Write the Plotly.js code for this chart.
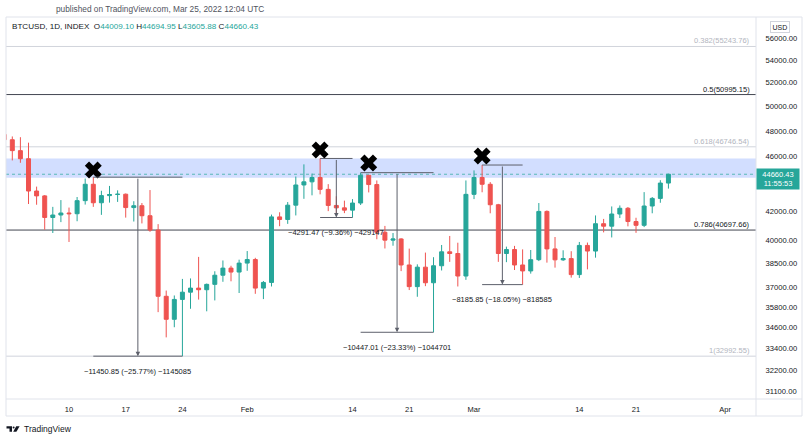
<!DOCTYPE html>
<html>
<head>
<meta charset="utf-8">
<script src="https://cdn.plot.ly/plotly-3.0.1.min.js"></script>
<style>html,body{margin:0;padding:0;background:#fff;}#chart{width:808px;height:440px;}</style>
</head>
<body>
<div id="chart"></div>
<script>
// ---- Daily candles (BTCUSD, 1D, INDEX) ----
const dates = ['2022-01-02','2022-01-03','2022-01-04','2022-01-05','2022-01-06','2022-01-07','2022-01-08','2022-01-09','2022-01-10','2022-01-11','2022-01-12','2022-01-13','2022-01-14','2022-01-15','2022-01-16','2022-01-17','2022-01-18','2022-01-19','2022-01-20','2022-01-21','2022-01-22','2022-01-23','2022-01-24','2022-01-25','2022-01-26','2022-01-27','2022-01-28','2022-01-29','2022-01-30','2022-01-31','2022-02-01','2022-02-02','2022-02-03','2022-02-04','2022-02-05','2022-02-06','2022-02-07','2022-02-08','2022-02-09','2022-02-10','2022-02-11','2022-02-12','2022-02-13','2022-02-14','2022-02-15','2022-02-16','2022-02-17','2022-02-18','2022-02-19','2022-02-20','2022-02-21','2022-02-22','2022-02-23','2022-02-24','2022-02-25','2022-02-26','2022-02-27','2022-02-28','2022-03-01','2022-03-02','2022-03-03','2022-03-04','2022-03-05','2022-03-06','2022-03-07','2022-03-08','2022-03-09','2022-03-10','2022-03-11','2022-03-12','2022-03-13','2022-03-14','2022-03-15','2022-03-16','2022-03-17','2022-03-18','2022-03-19','2022-03-20','2022-03-21','2022-03-22','2022-03-23','2022-03-24','2022-03-25'];
const opens  = [47720,47300,46450,45830,43430,43080,41560,41730,41870,41820,42740,43920,42590,43100,43180,43200,42250,42380,41680,40700,36450,35080,36260,36700,36950,36850,37180,37750,38200,37950,38520,38750,36950,37300,41600,41420,42420,43870,44100,44420,43550,42400,42230,42070,42570,44580,43900,40550,40020,40100,38400,37040,38260,37280,38350,39250,39140,37700,43190,44420,43920,42450,39140,39400,38400,38020,38740,41980,39440,38730,38810,37790,39670,39300,41130,40960,41800,42200,41280,41020,42360,42900,44009.10];
const highs  = [47990,47560,47500,47070,43750,43140,42300,42780,42250,43000,44340,44443.4,43450,43800,43480,43250,42700,42570,43500,41100,36800,36500,37520,37550,38920,37230,38000,38690,38350,38740,39300,38860,37390,41760,41920,42640,44490,45400,44710,45849,43930,43050,42740,42850,44778,44590,44200,40980,40500,40150,39460,38440,39200,38900,39700,40300,39850,44200,44950,45351,44080,42510,39590,39640,39410,39370,42570,42050,40230,39350,39290,39900,39860,41700,41460,42330,42400,42290,41540,43350,43000,44220,44694.95];
const lows   = [46650,45700,45520,42500,42450,40720,40500,41240,39900,41300,42460,42300,41740,42600,42650,41550,41280,41150,40580,35500,34040,34620,32992.55,35700,36250,35550,36200,37340,37370,36650,38030,36600,36280,37050,40960,41120,41700,42870,43120,43190,42000,41760,41860,41557.5,42430,43330,40080,39470,39650,38010,36830,36420,37070,34331,38050,38600,37050,37460,42850,43340,41850,38600,38580,38080,37165,37850,38650,38550,38230,38660,37600,37580,38120,38870,40540,40200,41520,40950,40510,40900,41850,42590,43605.88];
const closes = [47300,46450,45830,43430,43080,41560,41730,41870,41820,42740,43920,42590,43100,43180,43200,42250,42380,41680,40700,36450,35080,36260,36700,36950,36850,37180,37750,38200,37950,38520,38750,36950,37300,41600,41420,42420,43870,44100,44420,43550,42400,42230,42070,42570,44580,43900,40550,40020,40100,38400,37040,38260,37280,38350,39250,39140,37700,43190,44420,43920,42450,39140,39400,38400,38020,38740,41980,39440,38730,38810,37790,39670,39300,41130,40960,41800,42200,41280,41020,42360,42900,44009.10,44660.43];

// ---- Fibonacci levels ----
const fibRatios = ['0.382','0.5','0.618','0.786','1'];
const fibValues = [55243.76, 50995.15, 46746.54, 40697.66, 32992.55];
const fibStrong = [false, true, false, true, false];

// ---- Resistance zone ----
const zoneLow = 44400, zoneHigh = 45850;
const lastPrice = 44660.43;

// ---- Drawdown measurements ----
const measStart = ['2022-01-13','2022-02-10','2022-02-15','2022-03-02'];
const measEnd   = ['2022-01-24','2022-02-14','2022-02-24','2022-03-07'];
const measHigh  = [44443.40, 45849.0, 44778.0, 45351.0];
const measLow   = [32992.55, 41557.5, 34331.0, 37165.0];
const measText  = ['−11450.85 (−25.77%) −1145085','−4291.47 (−9.36%) −429147','−10447.01 (−23.33%) −1044701','−8185.85 (−18.05%) −818585'];

// ---- Rejection marks ----
const markDates  = ['2022-01-13','2022-02-10','2022-02-16','2022-03-02'];
const markPrices = [44980, 46497, 45500, 46036];

// ---- Axis ticks ----
const xTickVals = ['2022-01-10','2022-01-17','2022-01-24','2022-02-01','2022-02-14','2022-02-21','2022-03-01','2022-03-14','2022-03-21','2022-04-01'];
const xTickText = ['10','17','24','Feb','14','21','Mar','14','21','Apr'];
const yTickVals = [56000,54000,52000,50000,48000,46000,42000,40000,38500,37000,35800,34600,33400,32200,31100];
const yTickText = yTickVals.map(v => v.toFixed(2));

// ---- helpers (pixel -> paper) ----
const L = 6, R = 756, T = 17, B = 399;
const px = p => (p - L) / (R - L);
const py = q => (B - q) / (B - T);
const FONT = 'Liberation Sans, Arial, sans-serif';
const UP = '#26a69a', DOWN = '#ef5350';

function midDate(a, b) {
  const t = (new Date(a + 'T00:00:00Z').getTime() + new Date(b + 'T00:00:00Z').getTime()) / 2;
  return new Date(t).toISOString().slice(0, 19).replace('T', ' ');
}

const traces = [
  {
    type: 'candlestick', x: dates, open: opens, high: highs, low: lows, close: closes,
    increasing: {line: {color: UP, width: 1}, fillcolor: UP},
    decreasing: {line: {color: DOWN, width: 1}, fillcolor: DOWN},
    whiskerwidth: 0, hoverinfo: 'skip', showlegend: false
  },
  {
    type: 'scatter', mode: 'markers', x: markDates, y: markPrices,
    marker: {symbol: 'x', size: 15, color: '#000000', line: {width: 0}},
    hoverinfo: 'skip', showlegend: false, cliponaxis: false
  }
];

const shapes = [];
const annotations = [];

// zone
shapes.push({type: 'rect', xref: 'paper', yref: 'y', x0: 0, x1: 1, y0: zoneLow, y1: zoneHigh,
  fillcolor: 'rgba(41,98,255,0.21)', line: {width: 0}, layer: 'below'});
// last price dotted line
shapes.push({type: 'line', xref: 'paper', yref: 'y', x0: 0, x1: 1, y0: lastPrice, y1: lastPrice,
  line: {color: 'rgba(38,166,154,0.7)', width: 1, dash: 'dot'}, layer: 'below'});

// fib lines
fibValues.forEach((v, i) => {
  const c = fibStrong[i] ? '#434651' : '#d1d4dc';
  shapes.push({type: 'line', xref: 'paper', yref: 'y', x0: 0, x1: 1, y0: v, y1: v,
    line: {color: c, width: 1}, layer: 'below'});
  annotations.push({xref: 'paper', yref: 'y', x: px(751), y: Math.log10(v), xanchor: 'right', yanchor: 'bottom',
    text: fibRatios[i] + '(' + v.toFixed(2) + ')', showarrow: false, borderpad: 0,
    font: {family: FONT, size: 7.5, color: fibStrong[i] ? '#131722' : '#b2b5be'}});
});

// measurements
measStart.forEach((s, i) => {
  const e = measEnd[i], m = midDate(s, e), col = '#5d606b';
  shapes.push({type: 'line', xref: 'x', yref: 'y', x0: s, x1: e, y0: measHigh[i], y1: measHigh[i], line: {color: col, width: 1}});
  shapes.push({type: 'line', xref: 'x', yref: 'y', x0: s, x1: e, y0: measLow[i], y1: measLow[i], line: {color: col, width: 1}});
  annotations.push({x: m, y: Math.log10(measLow[i]), ax: m, ay: Math.log10(measHigh[i]), axref: 'x', ayref: 'y',
    xref: 'x', yref: 'y', text: '', showarrow: true, arrowhead: 2, arrowsize: 0.9, arrowwidth: 1, arrowcolor: col, standoff: 0, startstandoff: 0});
  annotations.push({x: m, y: Math.log10(measLow[i]), xref: 'x', yref: 'y', yshift: -15, showarrow: false,
    text: measText[i], font: {family: FONT, size: 7.5, color: '#131722'}});
});

// frame
const fc = '#e0e3eb';
const xr = px(802), yb = py(416);
shapes.push({type: 'line', xref: 'paper', yref: 'paper', x0: 0, x1: xr, y0: 0, y1: 0, line: {color: fc, width: 1}});
shapes.push({type: 'line', xref: 'paper', yref: 'paper', x0: 0, x1: xr, y0: yb, y1: yb, line: {color: fc, width: 1}});
shapes.push({type: 'line', xref: 'paper', yref: 'paper', x0: 0, x1: xr, y0: 1, y1: 1, line: {color: fc, width: 1}});
shapes.push({type: 'line', xref: 'paper', yref: 'paper', x0: 1, x1: 1, y0: yb, y1: 1, line: {color: fc, width: 1}});
shapes.push({type: 'line', xref: 'paper', yref: 'paper', x0: xr, x1: xr, y0: yb, y1: 1, line: {color: fc, width: 1}});
shapes.push({type: 'line', xref: 'paper', yref: 'paper', x0: 0, x1: 0, y0: yb, y1: 1, line: {color: fc, width: 1}});

// TradingView logo
shapes.push({type: 'path', xref: 'paper', yref: 'paper', fillcolor: '#131722', line: {width: 0},
  path: `M ${px(6.5)},${py(426.3)} L ${px(12)},${py(426.3)} L ${px(12)},${py(431.7)} L ${px(9.5)},${py(431.7)} L ${px(9.5)},${py(428.6)} L ${px(6.5)},${py(428.6)} Z`});
shapes.push({type: 'circle', xref: 'paper', yref: 'paper', fillcolor: '#131722', line: {width: 0},
  x0: px(12.6), x1: px(14.6), y0: py(428.4), y1: py(426.4)});
shapes.push({type: 'path', xref: 'paper', yref: 'paper', fillcolor: '#131722', line: {width: 0},
  path: `M ${px(16.2)},${py(426.3)} L ${px(19.6)},${py(426.3)} L ${px(16.4)},${py(431.7)} L ${px(13.2)},${py(431.7)} Z`});
annotations.push({xref: 'paper', yref: 'paper', x: px(21.5), y: py(429), xanchor: 'left', yanchor: 'middle',
  text: 'TradingView', showarrow: false, font: {family: FONT, size: 8.5, color: '#131722'}});

// header texts
annotations.push({xref: 'paper', yref: 'paper', x: px(160), y: py(9), xanchor: 'center', yanchor: 'middle',
  text: 'published on TradingView.com, Mar 25, 2022 12:04 UTC', showarrow: false, font: {family: FONT, size: 8.3, color: '#50535e'}});
const tv = v => `<span style="color:${UP}">${v.toFixed(2)}</span>`;
annotations.push({xref: 'paper', yref: 'paper', x: px(10), y: py(26), xanchor: 'left', yanchor: 'middle', showarrow: false,
  text: `BTCUSD, 1D, INDEX  O${tv(opens[opens.length-1])} H${tv(highs[highs.length-1])} L${tv(lows[lows.length-1])} C${tv(closes[closes.length-1])}`,
  font: {family: FONT, size: 8.1, color: '#131722'}});

// USD badge
annotations.push({xref: 'paper', yref: 'paper', x: px(779.5), y: py(27), xanchor: 'center', yanchor: 'middle', showarrow: false,
  text: 'USD', font: {family: FONT, size: 7, color: '#131722'}, bordercolor: '#d1d4dc', borderwidth: 1, borderpad: 1.5});

// price tag
annotations.push({xref: 'paper', yref: 'y', x: 1, y: Math.log10(lastPrice), xanchor: 'left', yanchor: 'top', yshift: 6, showarrow: false,
  text: lastPrice.toFixed(2) + '<br>11:55:53', bgcolor: UP, width: 40, height: 18, align: 'center', borderpad: 1,
  font: {family: FONT, size: 7.5, color: '#ffffff'}});

const layout = {
  width: 808, height: 440,
  margin: {l: L, r: 808 - R, t: T, b: 440 - B, pad: 0},
  paper_bgcolor: '#ffffff', plot_bgcolor: '#ffffff',
  showlegend: false, dragmode: false,
  font: {family: FONT, size: 7.5, color: '#131722'},
  xaxis: {
    type: 'date', range: ['2022-01-02 05:20', '2022-04-04 19:27'],
    tickvals: xTickVals, ticktext: xTickText, tickangle: 0,
    showgrid: false, zeroline: false, showline: false,
    ticks: 'outside', ticklen: 3, tickcolor: 'rgba(0,0,0,0)',
    tickfont: {family: FONT, size: 7.5, color: '#131722'},
    rangeslider: {visible: false}, fixedrange: true
  },
  yaxis: {
    type: 'log', side: 'right', range: [4.487451, 4.763585],
    tickvals: yTickVals, ticktext: yTickText,
    showgrid: false, zeroline: false, showline: false,
    ticks: 'outside', ticklen: 7, tickcolor: 'rgba(0,0,0,0)',
    tickfont: {family: FONT, size: 7.6, color: '#131722'}, fixedrange: true
  },
  shapes: shapes,
  annotations: annotations
};

Plotly.newPlot('chart', traces, layout, {staticPlot: true, displayModeBar: false});
</script>
</body>
</html>
